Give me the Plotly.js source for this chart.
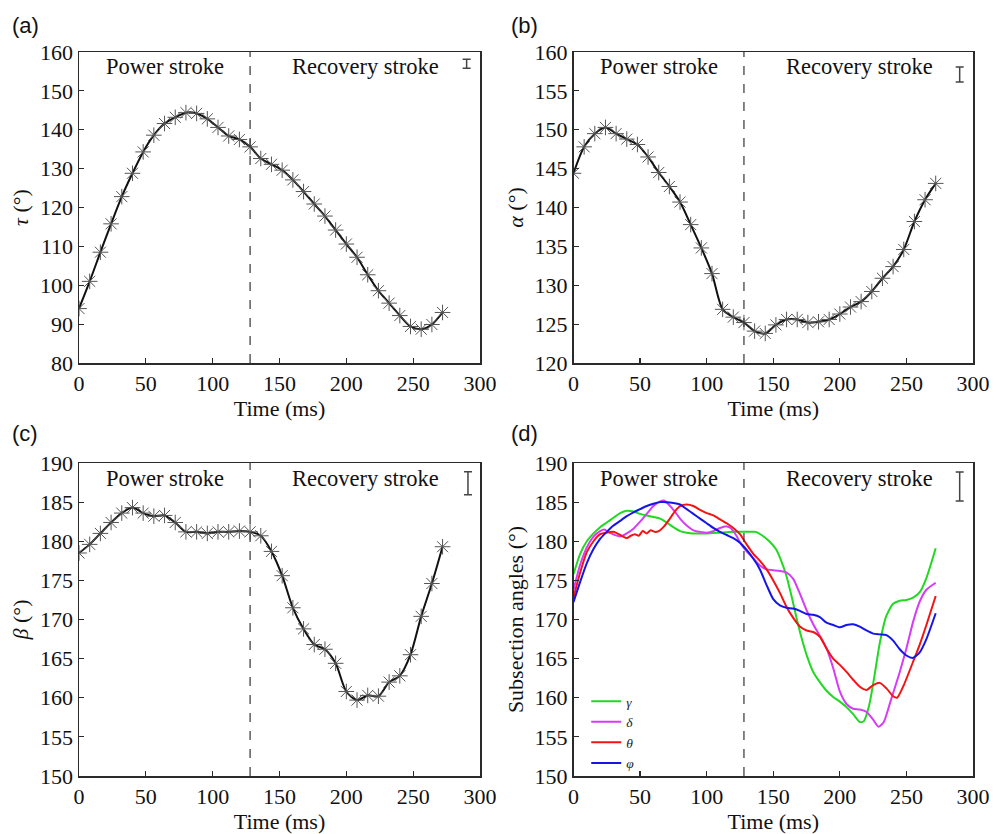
<!DOCTYPE html>
<html>
<head>
<meta charset="utf-8">
<script src="https://cdn.plot.ly/plotly-3.0.1.min.js"></script>
<style>html,body{margin:0;padding:0;background:#fff;}#chart{width:997px;height:834px;}</style>
</head>
<body>
<div id="chart"></div>
<script>
// ---------- data ----------
const strokeBoundary = 128;

const markerTime = [0,8,16,24,32,40,48,56,64,72,80,88,96,104,112,120,128,136,144,152,160,168,176,184,192,200,208,216,224,232,240,248,256,264,272];
const tau   = [94.0,101.0,108.5,115.8,122.8,128.8,134.3,138.6,141.6,143.2,144.4,144.2,142.8,140.6,138.4,137.5,135.6,132.6,131.1,129.6,127.1,124.1,120.9,117.8,114.2,110.6,107.2,102.7,98.6,95.4,92.2,89.4,88.7,89.9,93.0];
const alpha = [144.4,147.8,149.5,150.3,149.5,148.8,148.1,146.5,144.5,142.7,140.7,137.8,134.8,131.5,126.9,125.9,125.2,124.1,123.8,124.9,125.6,125.6,125.2,125.3,125.6,126.3,127.2,127.9,129.2,130.9,132.4,134.6,138.2,141.0,143.1];
const beta  = [178.5,179.6,181.0,182.4,183.6,184.3,183.6,183.2,183.3,182.4,181.2,181.2,181.0,181.2,181.2,181.3,181.2,180.7,178.7,175.6,171.5,168.8,166.8,166.2,164.4,160.8,159.7,160.3,160.2,162.0,162.8,165.5,170.4,174.6,179.3];

const gammaT = [0,5,10,15,20,25,30,35,40,45,50,55,60,65,70,75,80,85,90,100,110,120,130,137,142,147,152,156,160,164,168,172,176,180,185,190,195,200,205,210,215,218,222,226,230,235,240,245,250,255,260,265,272];
const gammaY = [175.8,178.4,180.0,181.0,181.8,182.4,183.0,183.6,183.9,183.8,183.5,183.3,183.1,182.9,182.4,181.8,181.3,181.1,181.0,181.0,181.1,181.2,181.2,181.2,180.7,180.0,179.0,177.5,175.5,172.8,169.8,167.2,165.0,163.3,162.0,160.9,160.1,159.5,158.8,157.9,156.9,157.0,159.0,162.8,167.0,170.5,172.0,172.4,172.5,172.8,173.5,175.3,179.1];

const deltaT = [0,5,10,15,20,23,27,31,35,40,45,50,55,60,65,68,72,76,80,85,90,95,100,105,110,115,118,122,126,130,135,140,145,150,155,160,165,170,175,180,185,190,195,200,205,210,215,220,225,229,233,238,245,250,255,260,265,272];
const deltaY = [173.8,177.0,179.2,180.6,181.3,181.5,181.1,180.8,180.6,181.0,181.6,182.5,183.5,184.5,185.1,185.2,184.6,183.8,182.9,182.0,181.4,181.2,181.1,181.3,181.7,181.9,181.7,180.8,179.6,178.7,177.8,176.9,176.4,176.3,176.2,176.0,175.2,173.3,171.2,169.4,167.9,166.3,163.8,160.8,159.2,158.6,158.5,158.2,157.2,156.3,156.9,159.5,163.3,166.3,169.7,172.3,173.8,174.7];

const thetaT = [0,5,10,15,20,25,30,35,40,43,46,49,52,55,58,61,64,68,72,76,80,85,90,95,100,105,110,115,120,125,130,135,140,145,150,155,160,165,170,175,180,185,190,195,200,205,210,215,220,225,230,235,240,243,248,255,260,265,272];
const thetaY = [172.8,176.0,178.6,180.0,180.9,181.1,181.2,180.8,180.4,180.7,180.9,180.7,181.3,181.0,181.4,181.2,181.3,181.9,182.8,183.8,184.5,184.7,184.5,184.0,183.6,183.3,182.8,182.3,181.7,180.9,179.6,178.4,177.5,176.4,175.0,173.4,171.6,170.2,169.1,168.6,168.4,167.8,166.3,165.0,164.2,163.3,162.3,161.4,161.0,161.6,161.9,161.2,160.2,160.0,161.6,164.6,166.8,169.3,173.0];

const phiT = [0,5,10,15,20,25,30,35,40,45,50,55,60,65,70,75,80,85,90,95,100,105,110,115,120,125,130,135,140,145,150,155,160,165,170,175,180,185,190,195,200,205,210,215,220,225,230,235,240,245,250,255,260,265,272];
const phiY = [172.2,174.8,177.2,179.0,180.3,181.2,182.0,182.6,183.2,183.7,184.1,184.5,184.8,185.0,185.0,184.9,184.7,184.1,183.5,182.9,182.3,181.7,181.2,180.8,180.4,179.8,178.9,177.8,176.4,174.4,172.6,171.8,171.5,171.4,171.1,170.7,170.6,170.3,169.6,169.3,169.0,169.3,169.4,169.1,168.6,168.2,168.1,168.0,167.3,166.2,165.4,165.1,165.8,167.5,170.8];

// error bar indicators (position and half-length, degrees)
const errX = [290, 290, 291, 290];
const errY = [157.0, 157.1, 187.4, 187.0];
const errHalf = [1.16, 0.96, 1.47, 1.85];

const panelLabels = ['(a)','(b)','(c)','(d)'];
const yTitles = ['<i>τ</i> (°)','<i>α</i> (°)','<i>β</i> (°)','Subsection angles (°)'];
const yRanges = [[80,160],[120,160],[150,190],[150,190]];
const yDtick = [10,5,5,5];
const subNames = ['<i>γ</i>','<i>δ</i>','<i>θ</i>','<i>φ</i>'];
const subColors = ['#22d822','#d53cf5','#f21414','#1515e8'];

// ---------- layout helpers ----------
const W = 997, H = 834;
const xDom = [[79/W, 480/W],[573.5/W, 973/W]];
const yDom = [[1-363/H, 1-52/H],[1-776/H, 1-463/H]];
const serif = "'Liberation Serif', 'Times New Roman', 'DejaVu Serif', serif";
const axCol = '#2a2a2a';

const traces = [];
const blackSeries = [tau, alpha, beta];
for (let i = 0; i < 3; i++) {
  const ax = i === 0 ? '' : String(i+1);
  traces.push({
    x: markerTime, y: blackSeries[i], xaxis: 'x'+ax, yaxis: 'y'+ax,
    mode: 'lines+markers', type: 'scatter', showlegend: false,
    line: {color: '#111', width: 2, shape: 'spline', smoothing: 0.8},
    marker: {symbol: 'asterisk-open', size: 13, color: '#555', line: {color: '#555', width: 1}}
  });
}
const subT = [gammaT, deltaT, thetaT, phiT];
const subY = [gammaY, deltaY, thetaY, phiY];
for (let k = 0; k < 4; k++) {
  traces.push({
    x: subT[k], y: subY[k], xaxis: 'x4', yaxis: 'y4', name: subNames[k],
    mode: 'lines', type: 'scatter', showlegend: true,
    line: {color: subColors[k], width: 2, shape: 'spline', smoothing: 0.6}
  });
}
for (let i = 0; i < 4; i++) {
  const ax = i === 0 ? '' : String(i+1);
  traces.push({
    x: [errX[i]], y: [errY[i]], xaxis: 'x'+ax, yaxis: 'y'+ax,
    mode: 'markers', type: 'scatter', showlegend: false,
    marker: {size: 1, color: 'rgba(0,0,0,0)'},
    error_y: {type: 'data', array: [errHalf[i]], visible: true, color: '#444', thickness: 1.5, width: 4}
  });
}

const layout = {
  width: W, height: H,
  margin: {l: 0, r: 0, t: 0, b: 0},
  paper_bgcolor: '#fff', plot_bgcolor: '#fff',
  font: {family: serif, size: 22, color: '#111'},
  legend: {x: 0.588, y: 0.1775, xanchor: 'left', yanchor: 'top', bgcolor: 'rgba(0,0,0,0)',
           font: {family: serif, size: 13.5, color: '#222'}, tracegroupgap: 0, itemwidth: 30},
  shapes: [], annotations: []
};

for (let i = 0; i < 4; i++) {
  const ax = i === 0 ? '' : String(i+1);
  const col = i % 2, row = Math.floor(i / 2);
  layout['xaxis'+ax] = {
    domain: xDom[col], anchor: 'y'+ax, range: [0,300], dtick: 50, tick0: 0,
    ticks: 'inside', ticklen: 5, tickwidth: 1.2, tickcolor: axCol,
    showline: true, mirror: true, linecolor: axCol, linewidth: 1.5,
    showgrid: false, zeroline: false, automargin: false,
    tickfont: {family: serif, size: 22, color: '#111'},
    title: {text: 'Time (ms)', font: {family: serif, size: 22, color: '#111'}, standoff: 3}
  };
  layout['yaxis'+ax] = {
    domain: yDom[row], anchor: 'x'+ax, range: yRanges[i], dtick: yDtick[i], tick0: 0,
    ticks: 'inside', ticklen: 5, tickwidth: 1.2, tickcolor: axCol,
    showline: true, mirror: true, linecolor: axCol, linewidth: 1.5,
    showgrid: false, zeroline: false, automargin: false,
    tickfont: {family: serif, size: 22, color: '#111'},
    title: {text: yTitles[i], font: {family: serif, size: 22, color: '#111'}, standoff: 5}
  };
  layout.shapes.push({
    type: 'line', xref: 'x'+ax, yref: 'y'+ax+' domain', x0: strokeBoundary, x1: strokeBoundary, y0: 0, y1: 1,
    line: {color: '#333', width: 1.2, dash: 'dash'}
  });
  layout.annotations.push(
    {xref: 'x'+ax, yref: 'y'+ax+' domain', x: 64.5, y: 0.952, text: 'Power stroke', showarrow: false,
     font: {family: serif, size: 22.5, color: '#111'}, xanchor: 'center', yanchor: 'middle'},
    {xref: 'x'+ax, yref: 'y'+ax+' domain', x: 214.5, y: 0.952, text: 'Recovery stroke', showarrow: false,
     font: {family: serif, size: 22.5, color: '#111'}, xanchor: 'center', yanchor: 'middle'},
    {xref: 'paper', yref: 'paper', x: (col === 0 ? 10 : 509)/W, y: 1 - (row === 0 ? 25 : 433)/H,
     text: panelLabels[i], showarrow: false, xanchor: 'left', yanchor: 'middle',
     font: {family: "'Liberation Sans', Arial, sans-serif", size: 22, color: '#111'}}
  );
}

Plotly.newPlot('chart', traces, layout, {staticPlot: true, displayModeBar: false});
</script>
</body>
</html>
